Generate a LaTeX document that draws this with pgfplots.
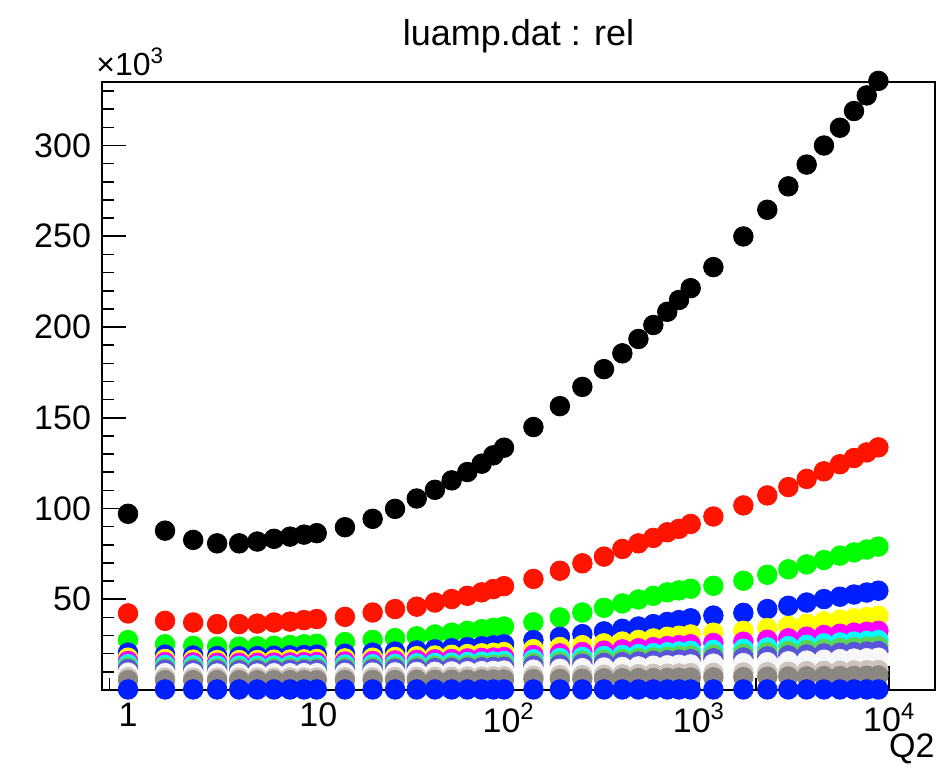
\documentclass[border=0pt]{standalone}
\usepackage{pgfplots}
\pgfplotsset{compat=1.18}
\usepackage{pgfplotstable}
\usepackage{fontspec}
\setmainfont{Liberation Sans}
\definecolor{rred}{rgb}{1,0.08,0}
\definecolor{rgreen}{rgb}{0,1,0}
\definecolor{rblue}{rgb}{0,0.12,1}
\definecolor{ryellow}{rgb}{1,1,0}
\definecolor{rmagenta}{rgb}{1,0,1}
\definecolor{rcyan}{rgb}{0,1,1}
\definecolor{rdkgreen}{rgb}{0.35,0.83,0.33}
\definecolor{rpurple}{rgb}{0.35,0.33,0.85}
\definecolor{rwhite}{rgb}{0.97,0.97,0.97}
\definecolor{rtan}{rgb}{0.80,0.77,0.74}
\definecolor{rdkgray}{rgb}{0.55,0.53,0.50}

\pgfplotstableread{
x     k     r     g    b    y    m    c    dg   p    w    t    dk   z
1.0   97.1  42.2  27.5 20.6 17.8 16.0 14.2 12.7 11.5 9.6  7.0  5.5  0.3
1.565 87.8  38.1  25.2 19.5 17.1 15.4 13.8 12.3 11.2 9.3  6.9  5.4  0.3
2.20  82.7  37.2  24.3 19.0 16.7 15.2 13.6 12.1 11.0 9.2  6.8  5.4  0.3
2.94  80.8  36.3  23.9 18.7 16.5 15.0 13.4 12.0 10.9 9.1  6.8  5.4  0.3
3.84  80.8  36.3  23.9 18.6 16.5 15.0 13.4 12.0 10.9 9.1  6.8  5.4  0.3
4.78  81.8  36.6  24.1 18.7 16.5 15.0 13.4 12.0 10.9 9.1  6.8  5.4  0.3
5.85  83.3  37.2  24.4 18.9 16.7 15.1 13.5 12.1 11.0 9.2  6.8  5.4  0.3
7.10  84.5  37.7  24.8 19.1 16.8 15.2 13.6 12.2 11.1 9.2  6.9  5.4  0.3
8.41  85.6  38.5  25.2 19.3 16.9 15.3 13.7 12.2 11.1 9.3  6.9  5.4  0.3
9.81  86.4  39.1  25.5 19.5 17.1 15.4 13.8 12.3 11.2 9.3  6.9  5.4  0.3
13.8  89.7  40.3  26.4 20.0 17.4 15.7 14.0 12.5 11.3 9.4  7.0  5.5  0.3
19.3  94.3  42.7  27.6 20.6 17.8 16.0 14.2 12.7 11.5 9.6  7.0  5.5  0.3
25.3  99.8  44.6  28.6 21.2 18.2 16.3 14.4 12.9 11.7 9.7  7.1  5.5  0.3
32.9  105.5 45.9  29.6 21.8 18.6 16.6 14.7 13.1 11.8 9.9  7.2  5.6  0.3
41.0  110.3 48.2  30.6 22.4 19.0 16.9 14.9 13.3 12.0 10.0 7.2  5.6  0.3
50.2  115.5 50.1  31.6 23.0 19.4 17.1 15.1 13.5 12.2 10.2 7.3  5.7  0.3
60.7  120.1 51.9  32.6 23.6 19.8 17.4 15.4 13.7 12.4 10.3 7.4  5.7  0.3
72.2  124.7 53.8  33.5 24.1 20.2 17.7 15.6 13.9 12.5 10.4 7.4  5.8  0.3
83.1  129.3 55.6  34.3 24.6 20.5 17.9 15.7 14.0 12.7 10.5 7.5  5.8  0.3
94.6  133.5 57.2  35.0 25.2 20.9 18.2 16.0 14.2 12.8 10.7 7.6  5.8  0.3
135   144.9 61.2  37.3 27.5 22.5 19.3 16.9 15.0 13.5 11.2 7.8  6.0  0.3
186   156.4 65.7  40.0 29.3 23.7 20.2 17.6 15.6 14.0 11.7 8.1  6.1  0.3
244   167.0 69.8  42.7 30.8 24.7 20.9 18.2 16.2 14.5 12.0 8.2  6.2  0.3
317   176.8 73.5  45.3 32.3 25.7 21.7 18.7 16.7 14.9 12.4 8.4  6.4  0.3
396   185.5 77.7  47.7 33.7 26.7 22.4 19.3 17.1 15.3 12.7 8.6  6.5  0.3
481   193.4 80.8  49.9 35.0 27.6 23.0 19.8 17.6 15.7 13.0 8.7  6.6  0.3
576   201.1 83.8  51.9 36.3 28.4 23.6 20.3 18.0 16.1 13.4 8.9  6.6  0.3
682   208.4 86.9  53.8 37.5 29.3 24.2 20.8 18.4 16.4 13.6 9.0  6.7  0.3
786   214.9 88.8  54.9 38.5 29.9 24.7 21.2 18.8 16.7 13.9 9.1  6.8  0.3
905   221.4 91.5  55.8 39.5 30.6 25.2 21.6 19.1 17.0 14.1 9.3  6.9  0.3
1191  233.0 95.6  57.4 41.0 31.6 25.9 22.1 19.6 17.5 14.5 9.4  7.0  0.3
1712  249.9 101.7 60.2 42.5 32.6 26.6 22.7 20.1 17.9 14.8 9.6  7.1  0.3
2287  264.6 107.2 63.5 44.6 34.1 27.7 23.5 20.8 18.5 15.3 9.8  7.3  0.3
2950  277.5 111.8 66.5 46.4 35.3 28.5 24.2 21.5 19.1 15.8 10.1 7.4  0.3
3684  289.5 116.3 69.2 48.2 36.5 29.4 24.9 22.1 19.6 16.2 10.3 7.5  0.3
4540  300.0 120.5 71.6 50.1 37.8 30.3 25.7 22.7 20.1 16.7 10.5 7.7  0.3
5510  309.8 124.4 74.0 51.4 38.7 31.0 26.2 23.2 20.5 17.0 10.6 7.7  0.3
6530  319.0 127.8 75.8 52.6 39.5 31.6 26.7 23.6 20.9 17.3 10.8 7.8  0.3
7620  327.6 130.9 77.4 53.7 40.2 32.1 27.1 23.9 21.2 17.5 10.9 7.9  0.3
8770  335.6 133.7 79.0 54.7 40.9 32.6 27.5 24.3 21.5 17.8 11.0 8.0  0.3
}\datatable

\begin{document}
\begin{tikzpicture}
\useasboundingbox (-51pt,-40.5pt) rectangle (418.5pt,345pt);
\begin{axis}[
  at={(0,0)}, anchor=south west,
  width=416.5pt, height=304pt, scale only axis,
  xmode=log, xmin=0.73, xmax=17400, ymin=0, ymax=335,
  xtick={1,10,100,1000,10000},
  xticklabels={1,10,10\textsuperscript{2},10\textsuperscript{3},10\textsuperscript{4}},
  minor xtick={0.8,0.9,2,3,4,5,6,7,8,9,20,30,40,50,60,70,80,90,200,300,400,500,600,700,800,900,2000,3000,4000,5000,6000,7000,8000,9000},
  ytick={50,100,150,200,250,300},
  yticklabels={50,100,150,200,250,300},
  minor ytick={10,20,30,40,60,70,80,90,110,120,130,140,160,170,180,190,210,220,230,240,260,270,280,290,310,320,330},
  xtick pos=bottom, ytick pos=left,
  tick align=inside,
  major tick length=12pt, minor tick length=6pt,
  every tick/.style={black, line width=0.8pt},
  axis line style={line width=0.9pt},
  ticklabel style={font=\fontsize{17}{19}\selectfont},
  xticklabel style={yshift=-3pt},
  yticklabel style={xshift=-2pt},
  clip=false,
]
\addplot[only marks, mark=*, mark size=4.9pt, black] table[x=x,y=k] {\datatable};
\addplot[only marks, mark=*, mark size=4.9pt, rred] table[x=x,y=r] {\datatable};
\addplot[only marks, mark=*, mark size=4.9pt, rgreen] table[x=x,y=g] {\datatable};
\addplot[only marks, mark=*, mark size=4.9pt, rblue] table[x=x,y=b] {\datatable};
\addplot[only marks, mark=*, mark size=4.9pt, ryellow] table[x=x,y=y] {\datatable};
\addplot[only marks, mark=*, mark size=4.9pt, rmagenta] table[x=x,y=m] {\datatable};
\addplot[only marks, mark=*, mark size=4.9pt, rcyan] table[x=x,y=c] {\datatable};
\addplot[only marks, mark=*, mark size=4.9pt, rdkgreen] table[x=x,y=dg] {\datatable};
\addplot[only marks, mark=*, mark size=4.9pt, rpurple] table[x=x,y=p] {\datatable};
\addplot[only marks, mark=*, mark size=4.9pt, rwhite] table[x=x,y=w] {\datatable};
\addplot[only marks, mark=*, mark size=4.9pt, rtan] table[x=x,y=t] {\datatable};
\addplot[only marks, mark=*, mark size=4.9pt, rdkgray] table[x=x,y=dk] {\datatable};
\addplot[only marks, mark=*, mark size=4.9pt, rblue] table[x=x,y=z] {\datatable};
\end{axis}
\node[anchor=base, font=\fontsize{18}{21}\selectfont] at (208.25pt,322pt) {luamp.dat : rel};
\node[anchor=base west, inner sep=0pt, font=\fontsize{16}{18}\selectfont] at (-3pt,3pt+304pt) {×10\textsuperscript{3}};
\node[anchor=base east, inner sep=0pt, font=\fontsize{17}{19}\selectfont] at (416.5pt,-34pt) {Q2};
\end{tikzpicture}
\end{document}
